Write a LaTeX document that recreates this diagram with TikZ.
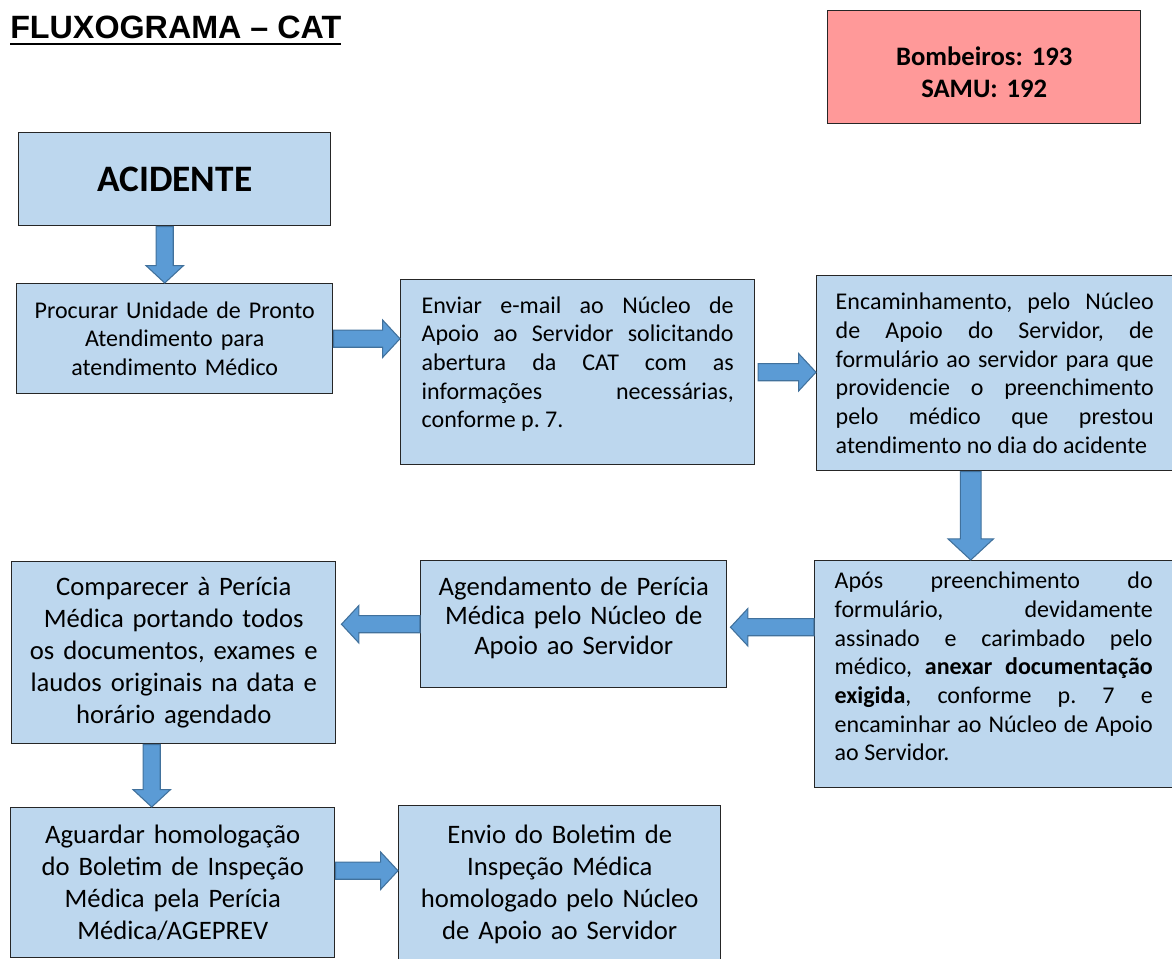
\documentclass[tikz,border=0pt]{standalone}
\usepackage{fontspec}
\setmainfont{Carlito}
\newfontfamily\arialfont{Liberation Sans}
\usetikzlibrary{calc}
\frenchspacing
\definecolor{caixaazul}{HTML}{BDD7EE}
\definecolor{caixaborda}{HTML}{262626}
\definecolor{setaazul}{HTML}{5B9BD5}
\definecolor{setaborda}{HTML}{41719C}
\definecolor{alerta}{HTML}{FF9999}
% sublinhado grosso do titulo
\newcommand{\sublinhar}[1]{\setbox0\hbox{#1}\rlap{\copy0}\rule[-5.3pt]{\wd0}{1.9pt}}
\tikzset{
    %Define style for boxes
    caixa/.style={
           rectangle,
           draw=caixaborda, line width=1.1pt,
           fill=caixaazul,
           anchor=north west,
           inner sep=0pt,
           align=center,
           font=\fontsize{18}{21.5}\selectfont},
    caixa grande/.style={caixa, font=\fontsize{20}{24}\selectfont},
    % Define style for block arrows
    seta/.style={
           fill=setaazul,
           draw=setaborda,
           line width=0.8pt,
           line join=miter}
}
% seta larga de (#2) ate (#3), #1 = escala
\newcommand{\seta}[3][1]{%
  \coordinate (seta-base) at ($(#3)!{#1*13pt}!(#2)$);
  \draw[seta] ($(#2)!{#1*6.4pt}!90:(#3)$) -- ($(seta-base)!{#1*6.4pt}!90:(#3)$)
    -- ($(seta-base)!{#1*14pt}!90:(#3)$) -- (#3)
    -- ($(seta-base)!{#1*14pt}!-90:(#3)$) -- ($(seta-base)!{#1*6.4pt}!-90:(#3)$)
    -- ($(#2)!{#1*6.4pt}!-90:(#3)$) -- cycle;
}

\begin{document}
\begin{tikzpicture}[x=0.75pt, y=-0.75pt]
  \useasboundingbox (0,0) rectangle (1172,958);
  \node[anchor=base west, inner sep=0pt, font=\arialfont\bfseries\fontsize{24.2}{29}\selectfont] (titulo) at (10,38) {\sublinhar{FLUXOGRAMA – CAT}};
  \node[caixa, fill=alerta, minimum width=234.75pt, minimum height=84.75pt, text width=220pt, font=\bfseries\fontsize{20}{24}\selectfont] (emergencia) at (827,10) {\rule{0pt}{22pt}Bombeiros: 193\\SAMU: 192};

  \node[caixa, minimum width=234pt, minimum height=69.75pt, font=\bfseries\fontsize{28}{34}\selectfont] (acidente) at (18,132) {ACIDENTE};
  \node[caixa, minimum width=237pt, minimum height=82.5pt, text width=217.5pt] (procurar) at (16,283) {Procurar Unidade de Pronto\\ Atendimento para\\ atendimento Médico};
  \node[caixa, minimum width=265.5pt, minimum height=138.75pt, text width=234pt, align=justify] (enviar) at (400,279) {Enviar e-mail ao Núcleo de\linebreak Apoio ao Servidor solicitando\linebreak abertura da CAT com as\linebreak informações necessárias,\linebreak conforme p. 7.\rule[-15pt]{0pt}{1pt}};
  \node[caixa, minimum width=267pt, minimum height=146.25pt, text width=238.5pt, align=justify] (encaminhamento) at (816,275) {Encaminhamento, pelo Núcleo\linebreak de Apoio do Servidor, de\linebreak formulário ao servidor para que\linebreak providencie o preenchimento\linebreak pelo médico que prestou\linebreak atendimento no dia do acidente};
  \node[caixa, minimum width=268.5pt, minimum height=170.25pt, text width=238.5pt, align=justify] (apos) at (814,560) {Após preenchimento do\linebreak formulário, devidamente\linebreak assinado e carimbado pelo\linebreak médico, \textbf{anexar documentação}\linebreak \textbf{exigida}, conforme p. 7 e\linebreak encaminhar ao Núcleo de Apoio\linebreak ao Servidor.\rule[-11.5pt]{0pt}{1pt}};
  \node[caixa grande, minimum width=229.5pt, minimum height=95.25pt, text width=210pt, font=\fontsize{20}{22}\selectfont] (agendamento) at (420,560) {Agendamento de Perícia\\ Médica pelo Núcleo de\\ Apoio ao Servidor\rule[-13pt]{0pt}{1pt}};
  \node[caixa grande, minimum width=243pt, minimum height=136.5pt, text width=225pt] (comparecer) at (11,561) {Comparecer à Perícia\\ Médica portando todos\\ os documentos, exames e\\ laudos originais na data e\\ horário agendado};
  \node[caixa grande, minimum width=243pt, minimum height=112.5pt, text width=225pt] (aguardar) at (10,807) {Aguardar homologação\\ do Boletim de Inspeção\\ Médica pela Perícia\\ Médica/AGEPREV};
  \node[caixa grande, minimum width=241.5pt, minimum height=117.75pt, text width=225pt] (envio) at (398,805) {Envio do Boletim de\\ Inspeção Médica\\ homologado pelo Núcleo\\ de Apoio ao Servidor};

  % setas
  \seta{[xshift=-7.5pt]acidente.south}{[xshift=-7.5pt]procurar.north}
  \seta{procurar.east}{procurar.east -| enviar.west}
  \seta{[xshift=2pt]enviar.east}{enviar.east -| encaminhamento.west}
  \seta[1.22]{[xshift=-18pt]encaminhamento.south}{[xshift=-17.25pt]apos.north}
  \seta{[yshift=-2.25pt]apos.west |- agendamento.east}{[xshift=2.25pt,yshift=-2.25pt]agendamento.east}
  \seta{agendamento.west}{[xshift=3.75pt]agendamento.west -| comparecer.east}
  \seta{[xshift=-16.5pt]comparecer.south}{[xshift=-15.75pt]aguardar.north}
  \seta{[yshift=9pt]aguardar.east}{[yshift=9pt]aguardar.east -| envio.west}
\end{tikzpicture}
\end{document}
